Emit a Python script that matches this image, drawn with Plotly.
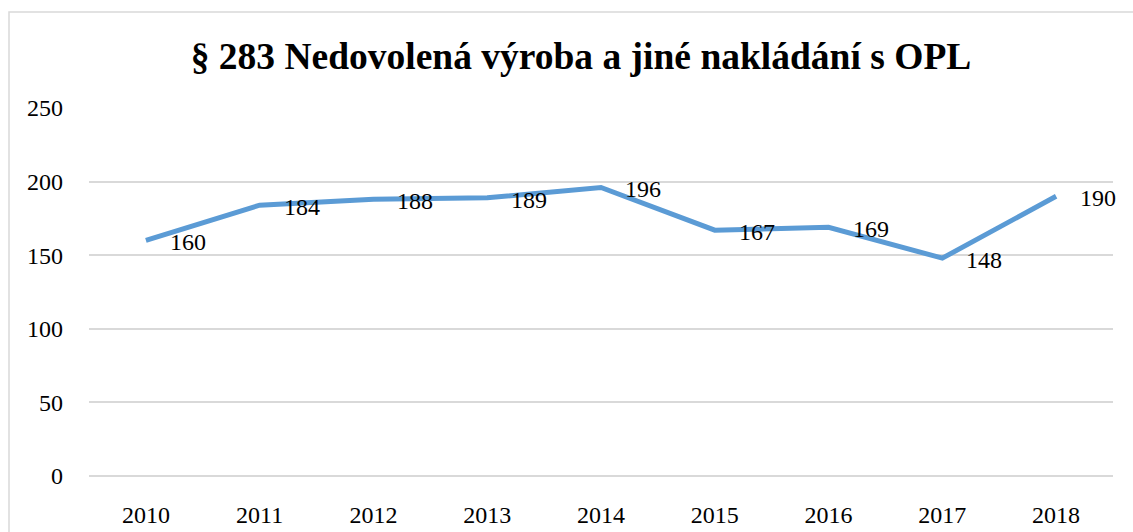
import plotly.graph_objects as go

years = ["2010", "2011", "2012", "2013", "2014", "2015", "2016", "2017", "2018"]
values = [160, 184, 188, 189, 196, 167, 169, 148, 190]
title_text = "§ 283 Nedovolená výroba a jiné nakládání s OPL"

FONT = "Liberation Serif, Times New Roman, serif"
W, H = 1133, 532
L, R, T, B = 89, 1113, 108, 476

fig = go.Figure()
fig.add_trace(go.Scatter(
    x=years, y=values, mode="lines",
    line=dict(color="#5B9BD5", width=5),
    hoverinfo="skip", showlegend=False,
))

for i, v in enumerate(values):
    fig.add_annotation(
        x=i, y=v, xref="x", yref="y", text=str(v), showarrow=False,
        xanchor="left", yanchor="middle", xshift=22, yshift=-2,
        font=dict(family=FONT, size=24, color="#000000"),
    )

pw = R - L
ph = B - T
fig.add_shape(
    type="rect", xref="paper", yref="paper",
    x0=(9 - L) / pw, x1=(1140 - L) / pw,
    y0=(B - 560) / ph, y1=(B - 12) / ph,
    line=dict(color="#D9D9D9", width=1.5), fillcolor="rgba(0,0,0,0)",
    layer="below",
)

fig.update_layout(
    width=W, height=H, autosize=False,
    margin=dict(l=L, r=W - R, t=T, b=H - B, autoexpand=False),
    paper_bgcolor="white", plot_bgcolor="white",
    title=dict(
        text="<b>" + title_text + "</b>",
        x=581 / W, xanchor="center", xref="container",
        y=1 - 56 / H, yanchor="middle", yref="container",
        font=dict(family=FONT, size=37.5, color="#000000"),
        automargin=False,
    ),
    font=dict(family=FONT, color="#000000"),
    xaxis=dict(
        type="category", showgrid=False, zeroline=False, showline=False,
        ticks="", ticklabelstandoff=22, automargin=False,
        tickfont=dict(family=FONT, size=24, color="#000000"),
        range=[-0.5, len(years) - 0.5],
    ),
    yaxis=dict(
        range=[0, 250], dtick=50, tick0=0,
        showgrid=True, gridcolor="#D9D9D9", gridwidth=1.5,
        zeroline=True, zerolinecolor="#D9D9D9", zerolinewidth=1.5,
        showline=False, ticks="", automargin=False,
        ticklabelstandoff=25,
        tickfont=dict(family=FONT, size=24, color="#000000"),
    ),
)

fig.write_html(
    "out.html",
    config={"displayModeBar": False},
    post_script="document.body.style.margin='0';document.body.style.overflow='hidden';",
)
